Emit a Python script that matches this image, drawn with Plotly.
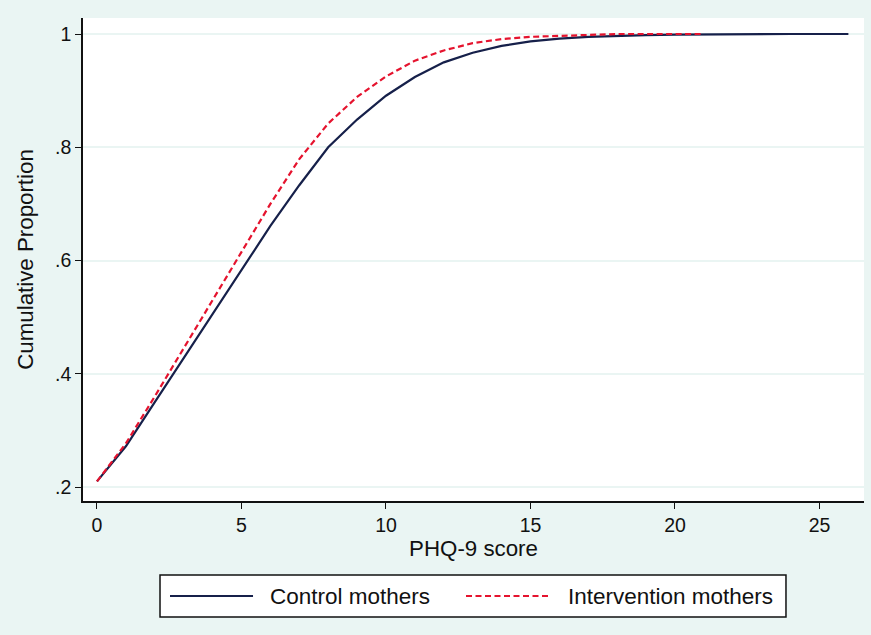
import plotly.graph_objects as go

# PHQ-9 scores
control_x = list(range(0, 27))
control_y = [0.21, 0.272, 0.35, 0.428, 0.505, 0.583, 0.661, 0.733, 0.80, 0.849, 0.891, 0.924,
             0.95, 0.967, 0.979, 0.987, 0.992, 0.995, 0.997, 0.998, 0.999, 0.9995, 1.0, 1.0,
             1.0, 1.0, 1.0]
interv_x = list(range(0, 22))
interv_y = [0.21, 0.277, 0.36, 0.445, 0.53, 0.615, 0.70, 0.779, 0.842, 0.889, 0.925, 0.953,
            0.971, 0.984, 0.991, 0.995, 0.997, 0.999, 1.0, 1.0, 1.0, 1.0]

x_ticks = [0, 5, 10, 15, 20, 25]
y_ticks = [0.2, 0.4, 0.6, 0.8, 1.0]
y_tick_labels = [".2", ".4", ".6", ".8", "1"]
series_names = ["Control mothers", "Intervention mothers"]
series_colors = ["#16204A", "#E5132E"]
series_dash = ["solid", "6px,3.5px"]

BG = "#EAF5F3"
FONT = "Liberation Sans, Arial, sans-serif"

fig = go.Figure()
fig.add_trace(go.Scatter(x=control_x, y=control_y, mode="lines", name=series_names[0],
                         line=dict(color=series_colors[0], width=2.2, dash=series_dash[0])))
fig.add_trace(go.Scatter(x=interv_x, y=interv_y, mode="lines", name=series_names[1],
                         line=dict(color=series_colors[1], width=2.2, dash=series_dash[1])))

# custom Stata-style legend box below the plot (paper coordinates)
shapes = [dict(type="rect", xref="paper", yref="paper", x0=0.0986, x1=0.9001,
               y0=-0.1532, y1=-0.2402, fillcolor="white", line=dict(color="#111", width=1.5))]
annotations = []
sample_x = [(0.1114, 0.2177, 0.2369), (0.4904, 0.5980, 0.6184)]
for (sx0, sx1, tx), name, col, dsh in zip(sample_x, series_names, series_colors, series_dash):
    shapes.append(dict(type="line", xref="paper", yref="paper", x0=sx0, x1=sx1,
                       y0=-0.1967, y1=-0.1967, line=dict(color=col, width=2, dash=dsh)))
    annotations.append(dict(text=name, xref="paper", yref="paper", x=tx, y=-0.1967,
                            xanchor="left", yanchor="middle", showarrow=False,
                            font=dict(size=22.5, family=FONT, color="#111")))

title_font = dict(family=FONT, size=22.3, color="#111")
tick_font = dict(family=FONT, size=19.5, color="#111")

fig.update_layout(
    width=871, height=635,
    paper_bgcolor=BG, plot_bgcolor="white",
    margin=dict(l=83, r=7, t=18, b=134),
    font=dict(family=FONT, size=18, color="#111"),
    showlegend=False,
    shapes=shapes, annotations=annotations,
    xaxis=dict(range=[-0.484, 26.54], tickvals=x_ticks, ticks="outside", ticklen=6,
               tickcolor="#111", showline=True, linecolor="#111", linewidth=1.5,
               showgrid=False, zeroline=False, automargin=True,
               title=dict(text="PHQ-9 score", font=title_font, standoff=2),
               tickfont=tick_font),
    yaxis=dict(range=[0.1753, 1.0283], tickvals=y_ticks, ticktext=y_tick_labels,
               ticks="outside", ticklen=6, tickcolor="#111", showline=True,
               linecolor="#111", linewidth=1.5, showgrid=True, gridcolor=BG, gridwidth=2,
               zeroline=False, automargin=False,
               title=dict(text="Cumulative Proportion", font=title_font),
               tickfont=tick_font),
)

fig.write_html("out.html", config={"displayModeBar": False},
               post_script="document.body.style.margin='0';")
